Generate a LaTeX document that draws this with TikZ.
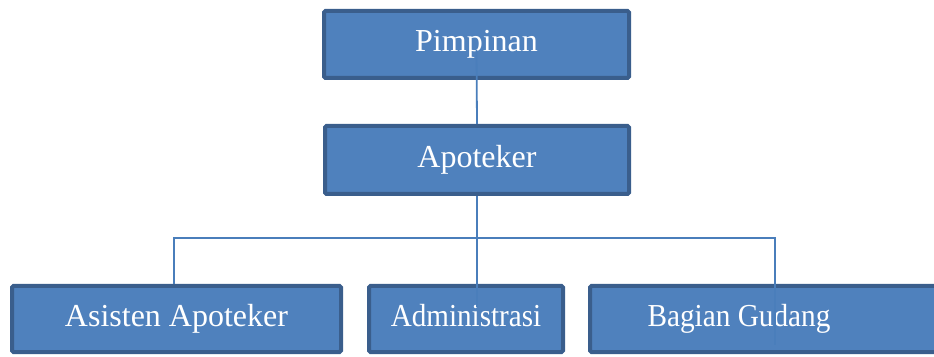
\documentclass[tikz,border=0pt]{standalone}
\usepackage{fontspec}
\usepackage{graphicx}
\setmainfont{Liberation Serif}
\definecolor{boxfill}{HTML}{4F81BD}
\definecolor{boxline}{HTML}{3A5E8C}
\definecolor{conn}{HTML}{4A7EBB}
\begin{document}
\begin{tikzpicture}[x=1pt,y=1pt,
  orgbox/.style={draw=boxline, fill=boxfill, line width=4pt, rounded corners=1.5pt,
    text=white, font=\fontsize{32}{38}\selectfont, text height=22pt, text depth=7pt,
    inner sep=0pt, minimum height=66pt},
  conline/.style={draw=conn, line width=1.8pt}]
\useasboundingbox (0,0) rectangle (934,356);
\node[orgbox, minimum width=305pt, minimum height=67pt] (pim) at (476.5,311.5) {Pimpinan};
\node[orgbox, minimum width=304pt, minimum height=68pt] (apo) at (477,196) {Apoteker};
\node[orgbox, minimum width=329pt] (asi) at (176.5,37) {Asisten Apoteker};
\node[orgbox, minimum width=194pt] (adm) at (466,37) {\scalebox{0.91}[1]{Administrasi}};
\node[orgbox, minimum width=370pt] (bag) at (775,37) {\scalebox{0.915}[1]{Bagian Gudang}\kern72pt};
\coordinate (bus) at (477,118);
\draw[conline] ([yshift=-5.5pt]pim.center) -- (apo.north);
\draw[conline] (apo.south) -- ([xshift=11pt,yshift=12pt]adm.center);
\draw[conline] ([xshift=-2.5pt]asi.north) |- (bus) -| ([yshift=-26pt]bag.center);
\end{tikzpicture}
\end{document}
